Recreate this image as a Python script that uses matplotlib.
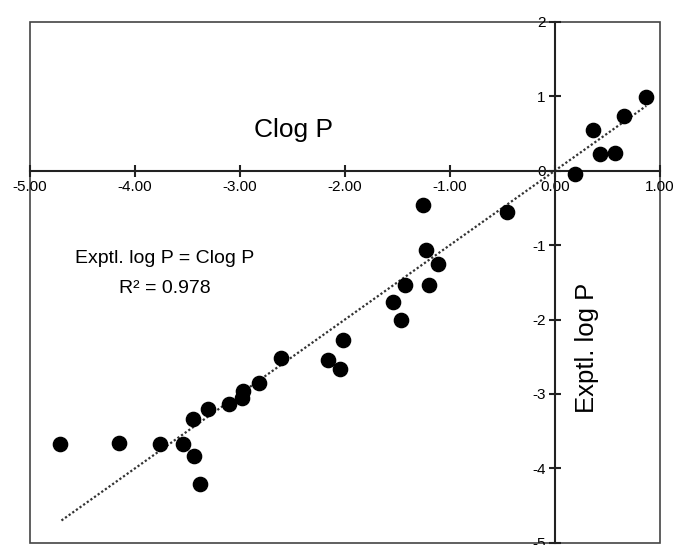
import numpy as np
import matplotlib
matplotlib.use("Agg")
import matplotlib.pyplot as plt
from matplotlib.patches import Rectangle

plt.rcParams['font.family'] = ['Liberation Sans', 'DejaVu Sans']

clogp = [0.87, 0.66, 0.36, 0.43, 0.57, 0.19,
         -1.26, -0.46, -1.23, -1.11, -1.43, -1.20, -1.54, -1.47,
         -2.02, -2.61, -2.16, -2.05,
         -2.82, -2.97, -2.98, -3.10, -3.30, -3.45,
         -4.71, -4.15, -3.76, -3.54, -3.44, -3.38]
exptl = [0.99, 0.74, 0.55, 0.23, 0.24, -0.04,
         -0.46, -0.55, -1.07, -1.26, -1.54, -1.53, -1.76, -2.01,
         -2.27, -2.52, -2.55, -2.66,
         -2.85, -2.96, -3.05, -3.13, -3.20, -3.34,
         -3.67, -3.66, -3.67, -3.67, -3.83, -4.21]
fit_x = [-4.70, 0.87]          # Exptl. log P = Clog P
fit_y = [-4.70, 0.87]
x_ticks = [-5, -4, -3, -2, -1, 0, 1]
y_ticks = [-5, -4, -3, -2, -1, 0, 1, 2]

fig = plt.figure(figsize=(6.81, 5.45), dpi=100)
ax = fig.add_axes([0.044, 0.004, 0.925, 0.956])
ax.set_xlim(-5, 1)
ax.set_ylim(-5, 2)

ax.plot(fit_x, fit_y, ls=(0, (1, 1)), color="#333333", lw=1.6, zorder=2)
ax.scatter(clogp, exptl, s=105, color="black", zorder=3)

# axes crossing at the origin, plus an outer frame
ax.spines["left"].set_position(("data", 0))
ax.spines["bottom"].set_position(("data", 0))
ax.spines["top"].set_visible(False)
ax.spines["right"].set_visible(False)
for s in ("left", "bottom"):
    ax.spines[s].set_linewidth(1.5)
    ax.spines[s].set_color("#222222")
ax.add_patch(Rectangle((0, 0), 1, 1, transform=ax.transAxes, fill=False,
                       lw=1.2, ec="#444444", clip_on=False, zorder=1))

ax.set_xticks(x_ticks)
ax.set_xticklabels([f"{v:.2f}" for v in x_ticks])
ax.set_yticks(y_ticks)
ax.set_yticklabels([str(v) for v in y_ticks])
ax.tick_params(direction="inout", length=9, width=1.5, color="#222222",
               labelsize=11, pad=2)

ax.text(-2.49, 0.54, "Clog P", fontsize=19, ha="center", va="center")
ax.text(0.31, -2.38, "Exptl. log P", fontsize=18.5, rotation=90,
        ha="center", va="center")
ax.text(-3.72, -1.18, "Exptl. log P = Clog P", fontsize=14,
        ha="center", va="center")
ax.text(-3.72, -1.58, "R² = 0.978", fontsize=14, ha="center", va="center")

fig.savefig("out.png", dpi=100)
